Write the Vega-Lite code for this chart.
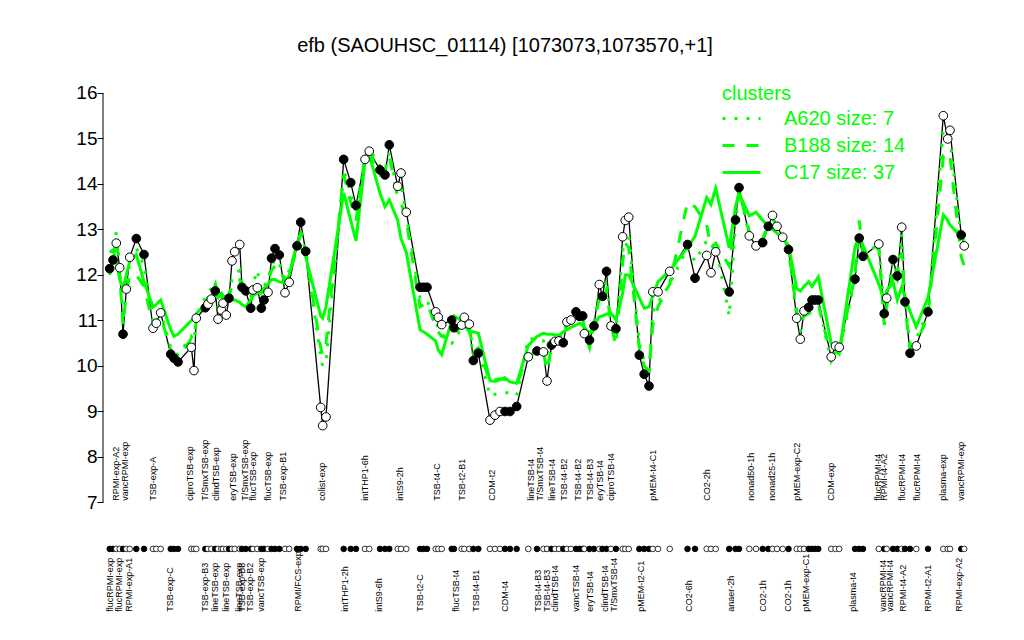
{
  "$schema": "https://vega.github.io/schema/vega-lite/v6.json",
  "width": 880,
  "height": 570,
  "autosize": {"type": "none"},
  "padding": {"left": 103, "top": 70, "right": 41, "bottom": 0},
  "background": "white",
  "config": {"view": {"stroke": null}, "font": "Liberation Sans"},
  "title": {"text": "efb (SAOUHSC_01114) [1073073,1073570,+1]", "fontSize": 20, "fontWeight": "normal", "font": "Liberation Sans", "color": "black", "anchor": "middle", "frame": "group", "dx": -38, "offset": 14},
  "datasets": {
    "pts": [
      {"pos": 1.52, "expr": 12.14, "type": "filled", "A620": 12.1, "B188": 12.0, "C17": 12.5},
      {"pos": 2.27, "expr": 12.33, "type": "filled", "A620": 12.35, "B188": 12.3, "C17": 12.55},
      {"pos": 3.02, "expr": 12.70, "type": "open", "A620": 12.95, "B188": 12.9, "C17": 12.3},
      {"pos": 3.80, "expr": 12.16, "type": "open", "A620": 12.2, "B188": 12.0, "C17": 11.9},
      {"pos": 4.55, "expr": 10.70, "type": "filled", "A620": 11.0, "B188": 10.9, "C17": 11.7},
      {"pos": 5.30, "expr": 11.69, "type": "open", "A620": 11.7, "B188": 11.6, "C17": 12.0},
      {"pos": 6.07, "expr": 12.39, "type": "open", "A620": 12.3, "B188": 12.0, "C17": 12.3},
      {"pos": 7.57, "expr": 12.80, "type": "filled", "A620": 12.6, "B188": 12.0, "C17": 12.45},
      {"pos": 9.32, "expr": 12.45, "type": "filled", "A620": 12.2, "B188": 11.75, "C17": 11.85},
      {"pos": 11.36, "expr": 10.83, "type": "open", "A620": 11.0, "B188": 10.9, "C17": 11.3},
      {"pos": 12.11, "expr": 10.94, "type": "open", "A620": 11.05, "B188": 11.0, "C17": 11.35},
      {"pos": 13.11, "expr": 11.17, "type": "open", "A620": 11.2, "B188": 11.1, "C17": 11.45},
      {"pos": 15.39, "expr": 10.26, "type": "filled", "A620": 10.4, "B188": 10.35, "C17": 10.8},
      {"pos": 16.14, "expr": 10.17, "type": "filled", "A620": 10.3, "B188": 10.25, "C17": 10.65},
      {"pos": 17.05, "expr": 10.09, "type": "filled", "A620": 10.25, "B188": 10.2, "C17": 10.7},
      {"pos": 20.07, "expr": 10.41, "type": "open", "A620": 10.65, "B188": 10.6, "C17": 11.0},
      {"pos": 20.68, "expr": 9.90, "type": "open", "A620": 10.55, "B188": 10.6, "C17": 11.05},
      {"pos": 21.20, "expr": 11.05, "type": "open", "A620": 11.1, "B188": 11.0, "C17": 11.15},
      {"pos": 23.25, "expr": 11.28, "type": "filled", "A620": 11.5, "B188": 11.4, "C17": 11.35},
      {"pos": 23.86, "expr": 11.36, "type": "open", "A620": 11.6, "B188": 11.5, "C17": 11.45},
      {"pos": 24.61, "expr": 11.47, "type": "open", "A620": 11.7, "B188": 11.6, "C17": 11.5},
      {"pos": 25.52, "expr": 11.65, "type": "filled", "A620": 11.85, "B188": 11.8, "C17": 11.55},
      {"pos": 26.14, "expr": 11.03, "type": "open", "A620": 11.4, "B188": 11.3, "C17": 11.5},
      {"pos": 26.89, "expr": 11.23, "type": "open", "A620": 11.5, "B188": 11.4, "C17": 11.6},
      {"pos": 27.27, "expr": 11.38, "type": "open", "A620": 11.6, "B188": 11.5, "C17": 11.55},
      {"pos": 28.02, "expr": 11.12, "type": "open", "A620": 11.4, "B188": 11.35, "C17": 11.5},
      {"pos": 28.64, "expr": 11.49, "type": "filled", "A620": 11.6, "B188": 11.5, "C17": 11.5},
      {"pos": 29.32, "expr": 12.31, "type": "open", "A620": 11.9, "B188": 11.8, "C17": 11.45},
      {"pos": 29.93, "expr": 12.51, "type": "open", "A620": 12.0, "B188": 11.85, "C17": 11.45},
      {"pos": 31.07, "expr": 12.67, "type": "open", "A620": 12.1, "B188": 11.9, "C17": 11.4},
      {"pos": 31.59, "expr": 11.73, "type": "filled", "A620": 11.8, "B188": 11.7, "C17": 11.35},
      {"pos": 32.43, "expr": 11.65, "type": "filled", "A620": 11.75, "B188": 11.65, "C17": 11.3},
      {"pos": 33.57, "expr": 11.27, "type": "filled", "A620": 11.55, "B188": 11.5, "C17": 11.45},
      {"pos": 34.09, "expr": 11.67, "type": "open", "A620": 11.8, "B188": 11.75, "C17": 11.55},
      {"pos": 35.07, "expr": 11.72, "type": "open", "A620": 12.1, "B188": 11.85, "C17": 11.6},
      {"pos": 35.98, "expr": 11.27, "type": "filled", "A620": 11.65, "B188": 11.6, "C17": 11.65},
      {"pos": 36.59, "expr": 11.45, "type": "filled", "A620": 11.75, "B188": 11.7, "C17": 11.7},
      {"pos": 37.50, "expr": 11.62, "type": "open", "A620": 11.9, "B188": 11.85, "C17": 11.8},
      {"pos": 38.30, "expr": 12.37, "type": "filled", "A620": 12.2, "B188": 12.1, "C17": 11.9},
      {"pos": 39.09, "expr": 12.58, "type": "filled", "A620": 12.35, "B188": 12.2, "C17": 11.9},
      {"pos": 40.07, "expr": 12.44, "type": "filled", "A620": 12.25, "B188": 12.15, "C17": 11.85},
      {"pos": 41.36, "expr": 11.61, "type": "open", "A620": 11.9, "B188": 11.85, "C17": 11.82},
      {"pos": 42.32, "expr": 11.84, "type": "open", "A620": 12.1, "B188": 12.0, "C17": 12.0},
      {"pos": 44.09, "expr": 12.64, "type": "filled", "A620": 12.65, "B188": 12.6, "C17": 12.7},
      {"pos": 44.93, "expr": 13.16, "type": "filled", "A620": 13.0, "B188": 12.9, "C17": 12.6},
      {"pos": 46.07, "expr": 12.52, "type": "filled", "A620": 12.5, "B188": 12.5, "C17": 12.4},
      {"pos": 49.48, "expr": 9.09, "type": "open", "A620": 10.2, "B188": 10.4, "C17": 11.1},
      {"pos": 49.93, "expr": 8.69, "type": "open", "A620": 10.0, "B188": 10.25, "C17": 11.05},
      {"pos": 50.68, "expr": 8.88, "type": "open", "A620": 10.1, "B188": 10.5, "C17": 11.3},
      {"pos": 54.70, "expr": 14.54, "type": "filled", "A620": 14.3, "B188": 14.2, "C17": 13.8},
      {"pos": 56.30, "expr": 14.03, "type": "filled", "A620": 13.8, "B188": 13.6, "C17": 13.2},
      {"pos": 57.50, "expr": 13.53, "type": "filled", "A620": 13.4, "B188": 13.2, "C17": 12.75},
      {"pos": 59.55, "expr": 14.54, "type": "open", "A620": 14.6, "B188": 14.6, "C17": 14.5},
      {"pos": 60.52, "expr": 14.72, "type": "open", "A620": 14.75, "B188": 14.7, "C17": 14.64},
      {"pos": 62.95, "expr": 14.31, "type": "filled", "A620": 14.4, "B188": 14.2, "C17": 13.8},
      {"pos": 64.09, "expr": 14.20, "type": "filled", "A620": 14.3, "B188": 14.3, "C17": 13.5},
      {"pos": 65.07, "expr": 14.86, "type": "filled", "A620": 14.7, "B188": 14.6, "C17": 13.65},
      {"pos": 66.98, "expr": 13.95, "type": "open", "A620": 13.8, "B188": 13.7, "C17": 13.2},
      {"pos": 67.73, "expr": 14.24, "type": "open", "A620": 14.0, "B188": 13.6, "C17": 12.8},
      {"pos": 68.93, "expr": 13.38, "type": "open", "A620": 13.3, "B188": 13.2, "C17": 12.5},
      {"pos": 72.05, "expr": 11.73, "type": "filled", "A620": 11.5, "B188": 11.3, "C17": 10.8},
      {"pos": 72.84, "expr": 11.73, "type": "filled", "A620": 11.45, "B188": 11.35, "C17": 10.75},
      {"pos": 73.64, "expr": 11.73, "type": "filled", "A620": 11.45, "B188": 11.4, "C17": 10.7},
      {"pos": 75.61, "expr": 11.19, "type": "open", "A620": 10.95, "B188": 10.85, "C17": 10.55},
      {"pos": 76.20, "expr": 11.07, "type": "open", "A620": 10.85, "B188": 10.75, "C17": 10.35},
      {"pos": 76.98, "expr": 10.91, "type": "open", "A620": 10.7, "B188": 10.65, "C17": 10.25},
      {"pos": 79.25, "expr": 11.01, "type": "filled", "A620": 10.5, "B188": 10.6, "C17": 11.0},
      {"pos": 79.77, "expr": 10.84, "type": "filled", "A620": 10.55, "B188": 10.7, "C17": 11.1},
      {"pos": 81.52, "expr": 10.90, "type": "open", "A620": 10.85, "B188": 10.9, "C17": 11.0},
      {"pos": 82.11, "expr": 11.07, "type": "open", "A620": 10.95, "B188": 11.0, "C17": 10.9},
      {"pos": 83.25, "expr": 10.92, "type": "open", "A620": 10.8, "B188": 10.85, "C17": 10.75},
      {"pos": 84.16, "expr": 10.12, "type": "filled", "A620": 10.2, "B188": 10.3, "C17": 10.75},
      {"pos": 85.30, "expr": 10.28, "type": "filled", "A620": 10.35, "B188": 10.4, "C17": 10.72},
      {"pos": 87.95, "expr": 8.81, "type": "open", "A620": 9.35, "B188": 9.65, "C17": 9.68},
      {"pos": 89.09, "expr": 8.92, "type": "open", "A620": 9.38, "B188": 9.7, "C17": 9.66},
      {"pos": 90.23, "expr": 9.00, "type": "open", "A620": 9.4, "B188": 9.72, "C17": 9.7},
      {"pos": 91.36, "expr": 9.00, "type": "filled", "A620": 9.42, "B188": 9.7, "C17": 9.74},
      {"pos": 92.50, "expr": 9.00, "type": "filled", "A620": 9.4, "B188": 9.68, "C17": 9.65},
      {"pos": 94.02, "expr": 9.11, "type": "filled", "A620": 9.35, "B188": 9.6, "C17": 9.62},
      {"pos": 96.66, "expr": 10.20, "type": "open", "A620": 10.6, "B188": 10.2, "C17": 10.45},
      {"pos": 98.64, "expr": 10.33, "type": "filled", "A620": 10.6, "B188": 10.35, "C17": 10.65},
      {"pos": 100.11, "expr": 10.31, "type": "open", "A620": 10.55, "B188": 10.3, "C17": 10.72},
      {"pos": 100.91, "expr": 9.67, "type": "open", "A620": 10.3, "B188": 9.9, "C17": 10.7},
      {"pos": 101.93, "expr": 10.46, "type": "filled", "A620": 10.6, "B188": 10.4, "C17": 10.7},
      {"pos": 102.73, "expr": 10.54, "type": "open", "A620": 10.6, "B188": 10.5, "C17": 10.68},
      {"pos": 103.64, "expr": 10.55, "type": "open", "A620": 10.65, "B188": 10.55, "C17": 10.68},
      {"pos": 104.61, "expr": 10.51, "type": "filled", "A620": 10.65, "B188": 10.5, "C17": 10.75},
      {"pos": 105.45, "expr": 10.97, "type": "open", "A620": 11.0, "B188": 10.95, "C17": 10.8},
      {"pos": 106.36, "expr": 11.01, "type": "open", "A620": 11.05, "B188": 11.0, "C17": 10.85},
      {"pos": 107.50, "expr": 11.19, "type": "filled", "A620": 11.2, "B188": 11.15, "C17": 10.9},
      {"pos": 108.30, "expr": 11.09, "type": "filled", "A620": 11.15, "B188": 11.1, "C17": 10.94},
      {"pos": 109.02, "expr": 11.10, "type": "filled", "A620": 11.1, "B188": 11.05, "C17": 10.9},
      {"pos": 109.39, "expr": 10.71, "type": "open", "A620": 10.85, "B188": 10.75, "C17": 10.85},
      {"pos": 110.57, "expr": 10.57, "type": "filled", "A620": 10.45, "B188": 10.4, "C17": 10.72},
      {"pos": 111.59, "expr": 10.88, "type": "filled", "A620": 10.95, "B188": 10.9, "C17": 10.9},
      {"pos": 112.80, "expr": 11.79, "type": "open", "A620": 11.6, "B188": 11.5, "C17": 11.08},
      {"pos": 113.52, "expr": 11.53, "type": "filled", "A620": 11.5, "B188": 11.4, "C17": 11.1},
      {"pos": 114.43, "expr": 12.08, "type": "filled", "A620": 11.9, "B188": 11.7, "C17": 11.14},
      {"pos": 115.45, "expr": 10.88, "type": "open", "A620": 10.95, "B188": 10.9, "C17": 11.16},
      {"pos": 116.59, "expr": 10.82, "type": "filled", "A620": 10.85, "B188": 10.45, "C17": 11.02},
      {"pos": 118.11, "expr": 12.84, "type": "open", "A620": 12.5, "B188": 12.3, "C17": 11.6},
      {"pos": 118.70, "expr": 13.20, "type": "open", "A620": 12.9, "B188": 12.7, "C17": 12.0},
      {"pos": 119.48, "expr": 13.27, "type": "open", "A620": 12.9, "B188": 12.6, "C17": 12.0},
      {"pos": 121.89, "expr": 10.24, "type": "filled", "A620": 10.5, "B188": 10.4, "C17": 11.5},
      {"pos": 123.00, "expr": 9.82, "type": "filled", "A620": 10.1, "B188": 10.0, "C17": 11.27},
      {"pos": 124.09, "expr": 9.56, "type": "filled", "A620": 9.8, "B188": 9.9, "C17": 11.3},
      {"pos": 124.95, "expr": 11.63, "type": "open", "A620": 11.2, "B188": 10.9, "C17": 11.55},
      {"pos": 126.14, "expr": 11.63, "type": "open", "A620": 11.4, "B188": 11.3, "C17": 11.85},
      {"pos": 128.80, "expr": 12.08, "type": "open", "A620": 11.8, "B188": 11.8, "C17": 12.1},
      {"pos": 132.84, "expr": 12.67, "type": "filled", "A620": 12.6, "B188": 13.6, "C17": 12.6},
      {"pos": 134.55, "expr": 11.93, "type": "filled", "A620": 12.3, "B188": 13.5, "C17": 12.85},
      {"pos": 137.20, "expr": 12.43, "type": "open", "A620": 12.75, "B188": 13.1, "C17": 13.7},
      {"pos": 138.18, "expr": 12.05, "type": "open", "A620": 12.6, "B188": 12.6, "C17": 13.55},
      {"pos": 139.25, "expr": 12.51, "type": "open", "A620": 12.65, "B188": 12.7, "C17": 13.9},
      {"pos": 142.32, "expr": 11.63, "type": "filled", "A620": 11.1, "B188": 12.2, "C17": 12.6},
      {"pos": 143.75, "expr": 13.21, "type": "filled", "A620": 13.1, "B188": 13.3, "C17": 13.5},
      {"pos": 144.55, "expr": 13.92, "type": "filled", "A620": 13.9, "B188": 13.85, "C17": 13.8},
      {"pos": 146.89, "expr": 12.86, "type": "open", "A620": 12.85, "B188": 12.95, "C17": 13.3},
      {"pos": 148.41, "expr": 12.64, "type": "open", "A620": 12.65, "B188": 12.7, "C17": 13.38},
      {"pos": 149.93, "expr": 12.71, "type": "filled", "A620": 12.75, "B188": 12.8, "C17": 13.2},
      {"pos": 151.20, "expr": 13.07, "type": "filled", "A620": 13.05, "B188": 13.1, "C17": 13.08},
      {"pos": 152.16, "expr": 13.31, "type": "open", "A620": 13.3, "B188": 13.25, "C17": 13.0},
      {"pos": 153.18, "expr": 13.07, "type": "open", "A620": 13.05, "B188": 13.05, "C17": 12.92},
      {"pos": 154.48, "expr": 12.83, "type": "open", "A620": 12.8, "B188": 12.85, "C17": 12.8},
      {"pos": 155.80, "expr": 12.56, "type": "filled", "A620": 12.55, "B188": 12.6, "C17": 12.65},
      {"pos": 157.66, "expr": 11.05, "type": "open", "A620": 11.1, "B188": 11.2, "C17": 11.7},
      {"pos": 158.48, "expr": 10.59, "type": "open", "A620": 10.75, "B188": 10.9, "C17": 11.65},
      {"pos": 159.32, "expr": 11.21, "type": "open", "A620": 11.15, "B188": 11.1, "C17": 11.75},
      {"pos": 160.39, "expr": 11.29, "type": "filled", "A620": 11.25, "B188": 11.15, "C17": 11.85},
      {"pos": 161.14, "expr": 11.45, "type": "filled", "A620": 11.35, "B188": 11.2, "C17": 11.75},
      {"pos": 161.82, "expr": 11.45, "type": "filled", "A620": 11.4, "B188": 11.3, "C17": 11.85},
      {"pos": 162.57, "expr": 11.45, "type": "filled", "A620": 11.4, "B188": 11.35, "C17": 11.96},
      {"pos": 165.50, "expr": 10.20, "type": "open", "A620": 10.1, "B188": 10.2, "C17": 10.5},
      {"pos": 166.48, "expr": 10.44, "type": "open", "A620": 10.25, "B188": 10.3, "C17": 10.4},
      {"pos": 167.32, "expr": 10.41, "type": "open", "A620": 10.3, "B188": 10.35, "C17": 10.28},
      {"pos": 170.91, "expr": 11.91, "type": "filled", "A620": 11.9, "B188": 12.0, "C17": 12.62},
      {"pos": 171.86, "expr": 12.81, "type": "filled", "A620": 12.95, "B188": 13.2, "C17": 12.84},
      {"pos": 172.73, "expr": 12.41, "type": "filled", "A620": 12.5, "B188": 12.5, "C17": 12.65},
      {"pos": 176.32, "expr": 12.68, "type": "open", "A620": 12.65, "B188": 12.6, "C17": 11.8},
      {"pos": 177.55, "expr": 11.15, "type": "filled", "A620": 11.2, "B188": 10.9, "C17": 11.45},
      {"pos": 178.11, "expr": 11.49, "type": "open", "A620": 11.5, "B188": 11.3, "C17": 11.65},
      {"pos": 179.55, "expr": 12.34, "type": "filled", "A620": 12.3, "B188": 12.1, "C17": 11.85},
      {"pos": 180.52, "expr": 11.98, "type": "filled", "A620": 12.0, "B188": 11.9, "C17": 11.45},
      {"pos": 181.52, "expr": 13.05, "type": "open", "A620": 12.9, "B188": 12.5, "C17": 11.74},
      {"pos": 182.27, "expr": 11.41, "type": "filled", "A620": 11.4, "B188": 11.3, "C17": 11.52},
      {"pos": 183.41, "expr": 10.28, "type": "filled", "A620": 10.5, "B188": 10.4, "C17": 11.2},
      {"pos": 184.84, "expr": 10.44, "type": "open", "A620": 10.6, "B188": 10.5, "C17": 10.86},
      {"pos": 187.50, "expr": 11.19, "type": "filled", "A620": 11.2, "B188": 11.1, "C17": 11.5},
      {"pos": 190.98, "expr": 15.50, "type": "open", "A620": 15.2, "B188": 14.6, "C17": 13.32},
      {"pos": 191.98, "expr": 14.99, "type": "open", "A620": 14.9, "B188": 14.5, "C17": 13.2},
      {"pos": 192.50, "expr": 15.18, "type": "open", "A620": 15.0, "B188": 14.6, "C17": 13.1},
      {"pos": 195.05, "expr": 12.88, "type": "filled", "A620": 12.8, "B188": 12.4, "C17": 12.84},
      {"pos": 195.73, "expr": 12.64, "type": "open", "A620": 12.6, "B188": 12.2, "C17": 12.75}
    ],
    "top": [
      {"pos": 2.95, "label": "RPMI-exp-A2"}, {"pos": 5.0, "label": "vancRPMI-exp"}, {"pos": 11.43, "label": "TSB-exp-A"},
      {"pos": 19.77, "label": "ciproTSB-exp"}, {"pos": 23.18, "label": "T/SmxTSB-exp"}, {"pos": 25.68, "label": "clindTSB-exp"},
      {"pos": 29.55, "label": "eryTSB-exp"}, {"pos": 32.27, "label": "T/SmxTSB-exp"}, {"pos": 34.16, "label": "flucTSB-exp"},
      {"pos": 37.57, "label": "flucTSB-exp"}, {"pos": 40.98, "label": "TSB-exp-B1"}, {"pos": 49.77, "label": "colist-exp"},
      {"pos": 59.55, "label": "intTHP1-6h"}, {"pos": 67.5, "label": "intS9-2h"}, {"pos": 75.84, "label": "TSB-t4-C"},
      {"pos": 81.59, "label": "TSB-t2-B1"}, {"pos": 88.41, "label": "CDM-t2"}, {"pos": 97.27, "label": "lineTSB-t4"},
      {"pos": 99.32, "label": "T/SmxTSB-t4"}, {"pos": 102.05, "label": "lineTSB-t4"}, {"pos": 104.77, "label": "TSB-t4-B2"},
      {"pos": 107.95, "label": "TSB-t4-B2"}, {"pos": 110.68, "label": "TSB-t4-B3"}, {"pos": 112.95, "label": "eryTSB-t4"},
      {"pos": 115.45, "label": "ciproTSB-t4"}, {"pos": 125.0, "label": "pMEM-t4-C1"}, {"pos": 137.27, "label": "CO2-2h"},
      {"pos": 147.27, "label": "nonad50-1h"}, {"pos": 152.05, "label": "nonad25-1h"}, {"pos": 157.73, "label": "pMEM-exp-C2"},
      {"pos": 165.45, "label": "CDM-exp"}, {"pos": 176.14, "label": "flucRPMI-t4"}, {"pos": 177.39, "label": "RPMI-t4-A2"},
      {"pos": 181.59, "label": "flucRPMI-t4"}, {"pos": 185.0, "label": "flucRPMI-t4"}, {"pos": 190.98, "label": "plasma-exp"},
      {"pos": 195.0, "label": "vancRPMI-exp"}
    ],
    "bot": [
      {"pos": 1.59, "label": "flucRPMI-exp"}, {"pos": 3.64, "label": "flucRPMI-exp"}, {"pos": 5.91, "label": "RPMI-exp-A1"},
      {"pos": 15.34, "label": "TSB-exp-C"}, {"pos": 23.18, "label": "TSB-exp-B3"}, {"pos": 25.45, "label": "lineTSB-exp"},
      {"pos": 27.95, "label": "lineTSB-exp"}, {"pos": 30.91, "label": "lineTSB-exp"}, {"pos": 31.52, "label": "TSB-exp-B3"},
      {"pos": 33.52, "label": "TSB-exp-B2"}, {"pos": 35.91, "label": "vancTSB-exp"}, {"pos": 44.39, "label": "RPMI/FCS-exp"},
      {"pos": 55.0, "label": "intTHP1-2h"}, {"pos": 62.73, "label": "intS9-6h"}, {"pos": 72.05, "label": "TSB-t2-C"},
      {"pos": 80.23, "label": "flucTSB-t4"}, {"pos": 84.66, "label": "TSB-t4-B1"}, {"pos": 91.36, "label": "CDM-t4"},
      {"pos": 98.86, "label": "TSB-t4-B3"}, {"pos": 100.91, "label": "TSB-t4-B3"}, {"pos": 102.73, "label": "clindTSB-t4"},
      {"pos": 107.61, "label": "vancTSB-t4"}, {"pos": 110.57, "label": "eryTSB-t4"}, {"pos": 114.09, "label": "clindTSB-t4"},
      {"pos": 116.14, "label": "T/SmxTSB-t4"}, {"pos": 122.16, "label": "pMEM-t2-C1"}, {"pos": 133.07, "label": "CO2-6h"},
      {"pos": 142.84, "label": "anaer-2h"}, {"pos": 150.0, "label": "CO2-1h"}, {"pos": 155.75, "label": "CO2-1h"},
      {"pos": 159.66, "label": "pMEM-exp-C1"}, {"pos": 170.45, "label": "plasma-t4"}, {"pos": 177.34, "label": "vancRPMI-t4"},
      {"pos": 178.86, "label": "vancRPMI-t4"}, {"pos": 181.89, "label": "RPMI-t4-A2"}, {"pos": 187.57, "label": "RPMI-t2-A1"},
      {"pos": 194.55, "label": "RPMI-exp-A2"}
    ]
  },
  "layer": [
    {
      "data": {"values": [{}]},
      "mark": {"type": "rule", "color": "black", "strokeWidth": 1},
      "encoding": {
        "x": {"datum": 0, "type": "quantitative", "scale": {"domain": [0, 200], "nice": false, "zero": false}, "axis": null},
        "y": {"datum": 7, "type": "quantitative", "scale": {"domain": [3.978, 16.505], "nice": false, "zero": false},
              "axis": {"values": [7, 8, 9, 10, 11, 12, 13, 14, 15, 16], "domain": false, "grid": false, "ticks": true, "tickSize": 6, "tickColor": "black", "tickWidth": 1, "labelFontSize": 19, "labelColor": "black", "labelFont": "Liberation Sans", "labelPadding": 0, "title": null}},
        "y2": {"datum": 16}
      }
    },
    {
      "data": {"name": "pts"},
      "mark": {"type": "line", "color": "black", "strokeWidth": 1.3},
      "encoding": {
        "x": {"field": "pos", "type": "quantitative"},
        "y": {"field": "expr", "type": "quantitative"}
      }
    },
    {
      "data": {"name": "pts"},
      "transform": [{"fold": ["A620", "B188", "C17"], "as": ["cluster", "val"]}],
      "mark": {"type": "line", "color": "#00FF00", "strokeWidth": 3},
      "encoding": {
        "x": {"field": "pos", "type": "quantitative"},
        "y": {"field": "val", "type": "quantitative"},
        "detail": {"field": "cluster"},
        "strokeDash": {"field": "cluster", "type": "nominal",
          "scale": {"domain": ["A620", "B188", "C17"], "range": [[3, 9], [12, 12], [1, 0]]},
          "legend": {"title": "clusters", "orient": "none", "legendX": 619, "legendY": 14, "padding": 0,
            "titleColor": "#00FF00", "titleFontSize": 20, "titleFontWeight": "normal", "titleFont": "Liberation Sans", "titlePadding": -2,
            "labelColor": "#00FF00", "labelFontSize": 20, "labelFont": "Liberation Sans", "labelOffset": 26,
            "symbolType": "M-1.27,0H1.27", "symbolStrokeColor": "#00FF00", "symbolFillColor": "transparent", "symbolStrokeWidth": 3, "symbolSize": 900, "symbolOffset": 3, "rowPadding": 0,
            "labelExpr": "datum.label == 'A620' ? 'A620 size: 7' : datum.label == 'B188' ? 'B188 size: 14' : 'C17 size: 37'"}}
      }
    },
    {
      "data": {"name": "pts"},
      "mark": {"type": "circle", "stroke": "black", "strokeWidth": 1, "opacity": 1, "size": 75},
      "encoding": {
        "x": {"field": "pos", "type": "quantitative"},
        "y": {"field": "expr", "type": "quantitative"},
        "fill": {"field": "type", "type": "nominal", "scale": {"domain": ["filled", "open"], "range": ["black", "white"]}, "legend": null}
      }
    },
    {
      "data": {"name": "pts"},
      "mark": {"type": "circle", "stroke": "black", "strokeWidth": 0.8, "opacity": 1, "size": 32},
      "encoding": {
        "x": {"field": "pos", "type": "quantitative"},
        "y": {"datum": 5.98, "type": "quantitative"},
        "fill": {"field": "type", "type": "nominal", "scale": {"domain": ["filled", "open"], "range": ["black", "white"]}, "legend": null}
      }
    },
    {
      "data": {"name": "top"},
      "mark": {"type": "text", "angle": 270, "align": "left", "baseline": "middle", "fontSize": 9, "font": "Liberation Sans", "color": "black"},
      "encoding": {
        "x": {"field": "pos", "type": "quantitative"},
        "y": {"datum": 7.04, "type": "quantitative"},
        "text": {"field": "label"}
      }
    },
    {
      "data": {"name": "bot"},
      "mark": {"type": "text", "angle": 270, "align": "left", "baseline": "middle", "fontSize": 9, "font": "Liberation Sans", "color": "black"},
      "encoding": {
        "x": {"field": "pos", "type": "quantitative"},
        "y": {"datum": 4.6, "type": "quantitative"},
        "text": {"field": "label"}
      }
    }
  ]
}
